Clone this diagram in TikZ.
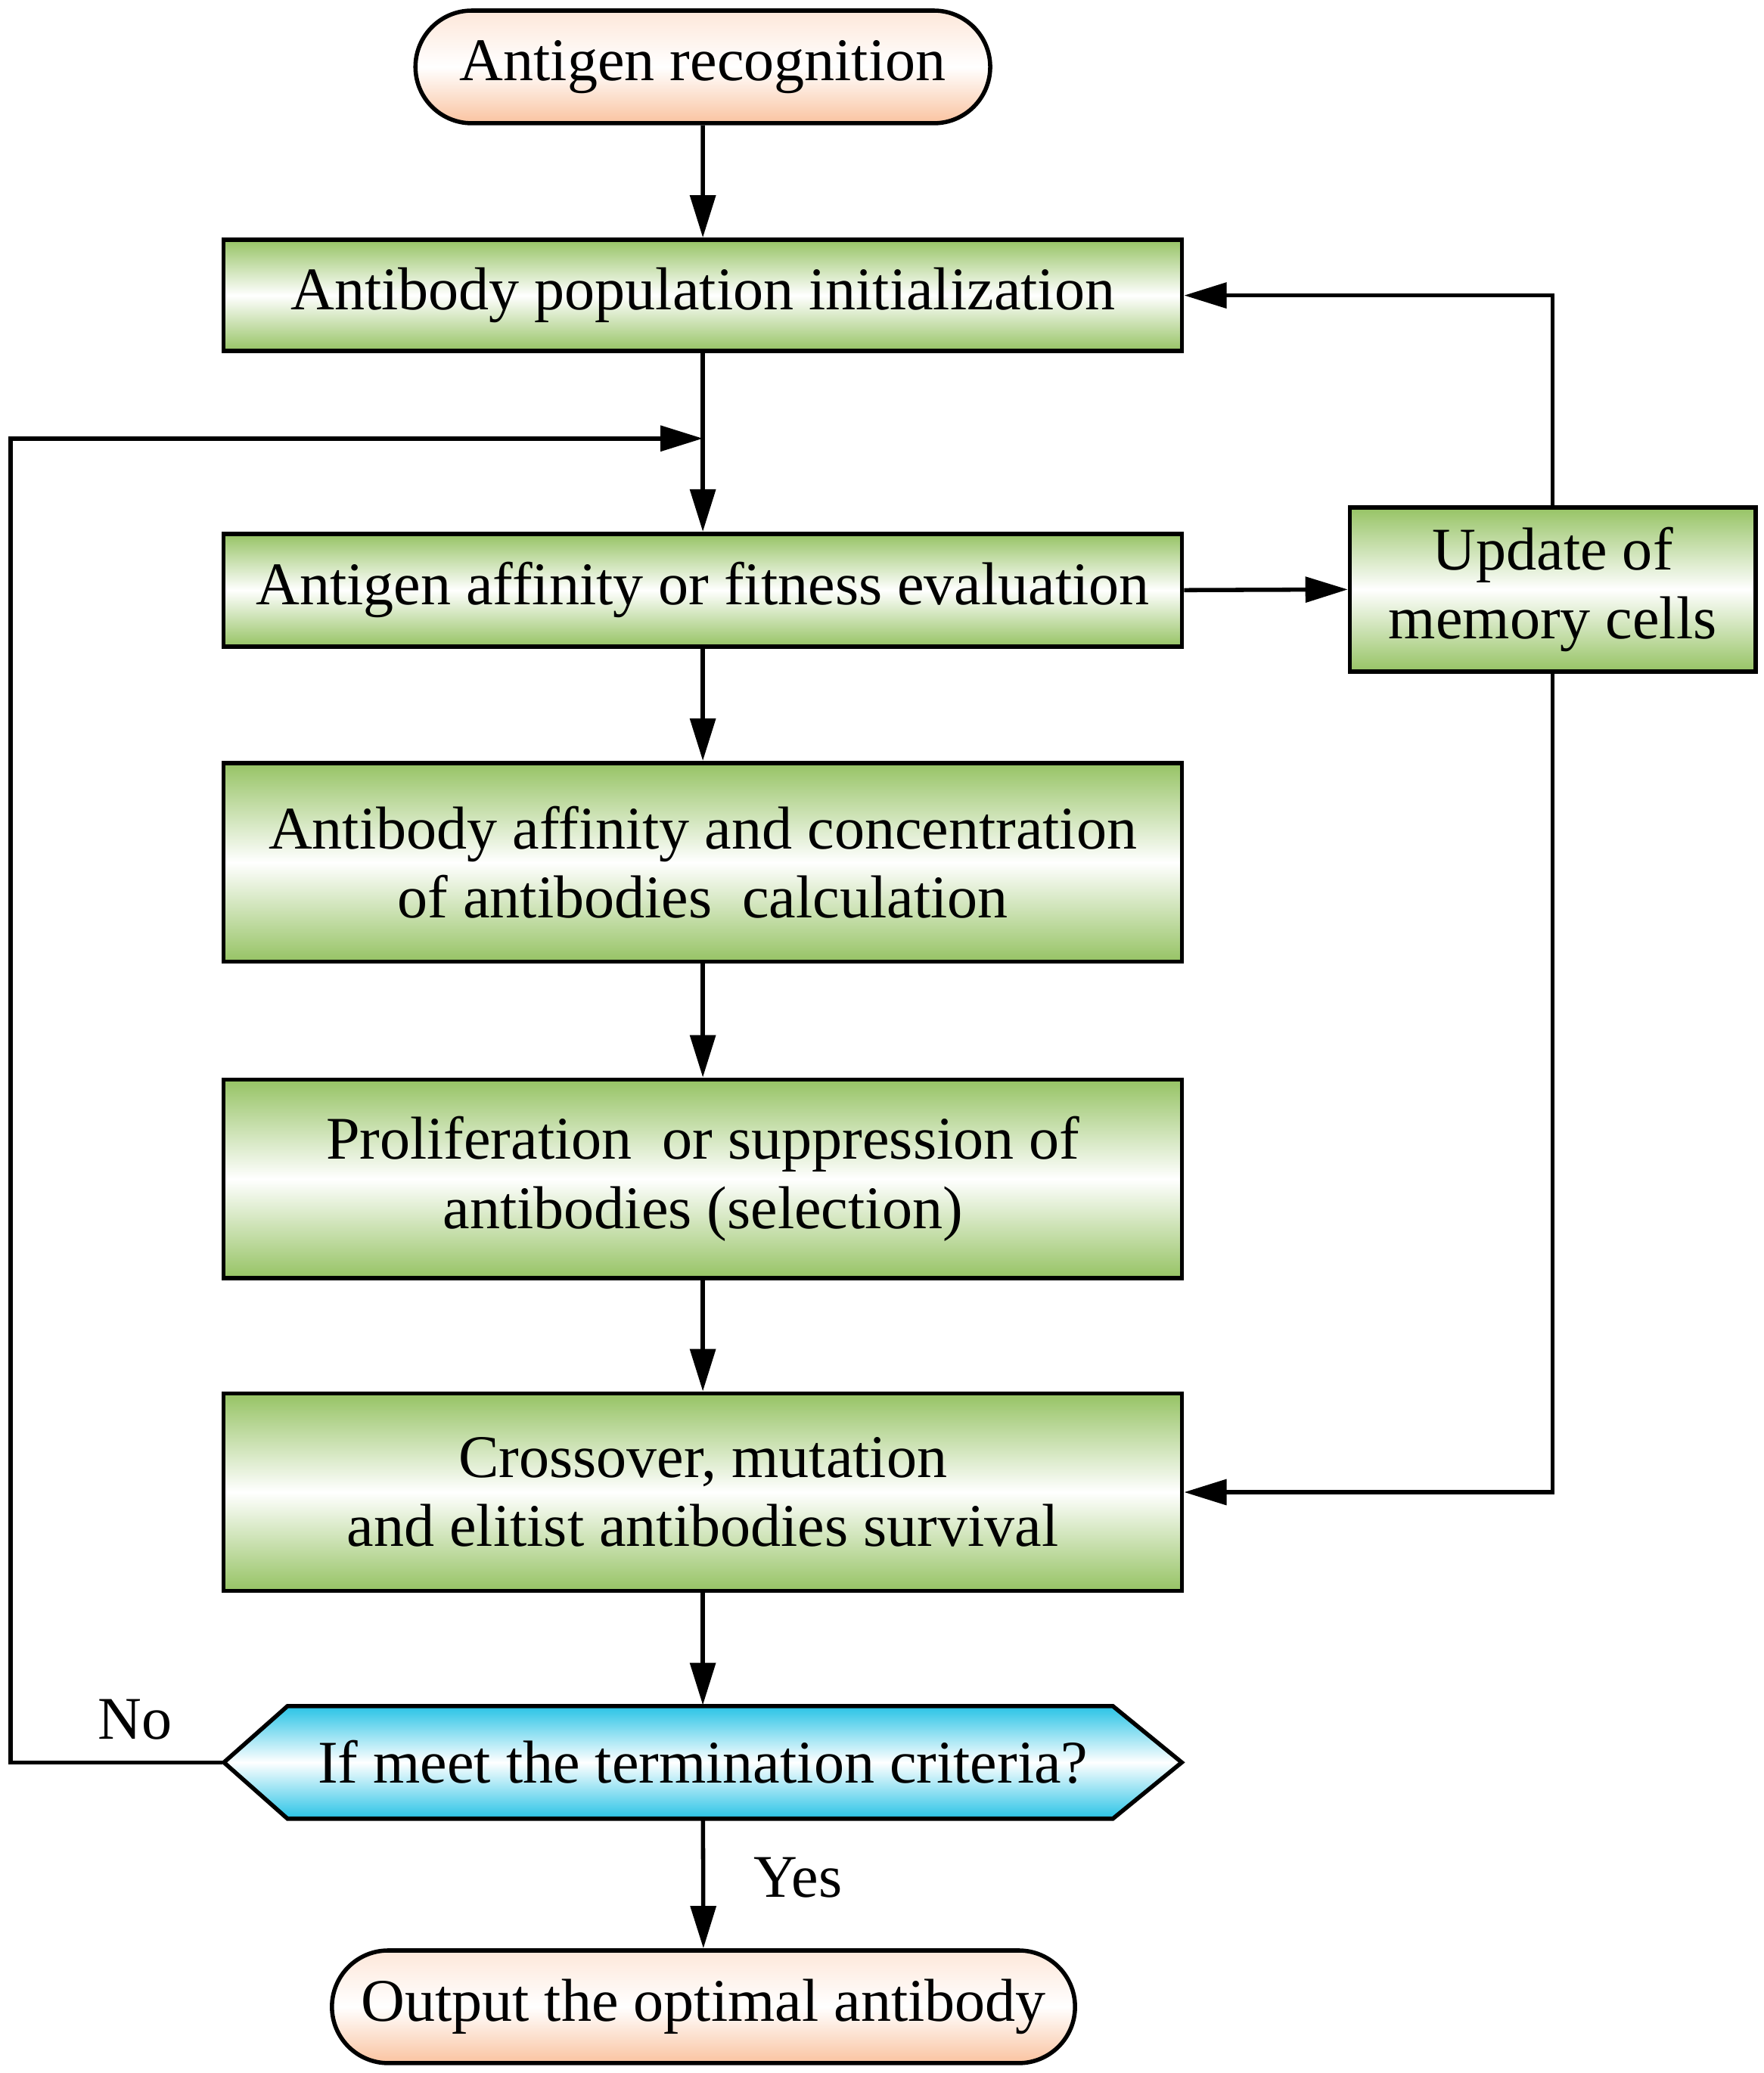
\documentclass[tikz,border=0pt]{standalone}
\usepackage{fontspec}
\setmainfont{Liberation Serif}
\usetikzlibrary{arrows.meta,shapes.misc}
\definecolor{gr}{RGB}{150,195,100}
\definecolor{pe}{RGB}{250,195,160}
\definecolor{cy}{RGB}{40,195,230}
\begin{document}
\begin{tikzpicture}[x=0.01cm,y=-0.01cm,
  every node/.style={font=\fontsize{13pt}{14.8pt}\selectfont,align=center},
  arr/.style={line width=0.9pt,-{Triangle[length=0.32cm,width=0.19cm]}},
  gbox/.style={rectangle,draw,line width=0.9pt,top color=gr,bottom color=gr,middle color=white,minimum width=7.23cm},
  term/.style={rounded rectangle,draw,line width=0.9pt,top color=pe!40,bottom color=pe,middle color=white,minimum height=0.85cm}]
\useasboundingbox (0,0) rectangle (1331,1565);
\node[term,minimum width=4.57cm] (s) at (530.5,50.5) {Antigen recognition};
\node[gbox,minimum height=0.84cm] (b1) at (530.5,223) {Antibody population initialization};
\node[gbox,minimum height=0.85cm] (b2) at (530.5,445.5) {Antigen affinity or fitness evaluation};
\node[gbox,minimum height=1.5cm] (b3) at (530.5,651) {Antibody affinity and concentration\\of antibodies\ \ calculation};
\node[gbox,minimum height=1.5cm] (b4) at (530.5,890) {Proliferation\ \ or suppression of\\antibodies (selection)};
\node[gbox,minimum height=1.49cm] (b5) at (530.5,1126.5) {Crossover, mutation\\and elitist antibodies survival};
\shade[top color=cy,bottom color=cy,middle color=white,draw,line width=0.9pt]
  (169,1330.5) -- (217,1288) -- (840,1288) -- (892,1330.5) -- (840,1373) -- (217,1373) -- cycle;
\node[minimum width=7.23cm,minimum height=0.85cm] (d) at (530.5,1330.5) {If meet the termination criteria?};
\node[term,minimum width=5.84cm] (e) at (531,1515) {Output the optimal antibody};
\node[rectangle,draw,line width=0.9pt,top color=gr,bottom color=gr,middle color=white,minimum width=3.06cm,minimum height=1.24cm] (m) at (1172,445) {Update of\\memory cells};
\coordinate (j) at (530.5,331);
\draw[arr] (s) -- (b1);
\draw[arr] (b1) -- (b2);
\draw[arr] (b2) -- (b3);
\draw[arr] (b3) -- (b4);
\draw[arr] (b4) -- (b5);
\draw[arr] (b5) -- (d);
\draw[arr] (d) -- node[right=0.25cm,pos=0.45] {Yes} (e);
\draw[arr] (d.west) -| (8,331) -- (j);
\node at (102,1298) {No};
\draw[arr] (b2.east) -- (m.west);
\draw[arr] (m.north) |- (b1.east);
\draw[arr] (m.south) |- (b5.east);
\end{tikzpicture}
\end{document}
